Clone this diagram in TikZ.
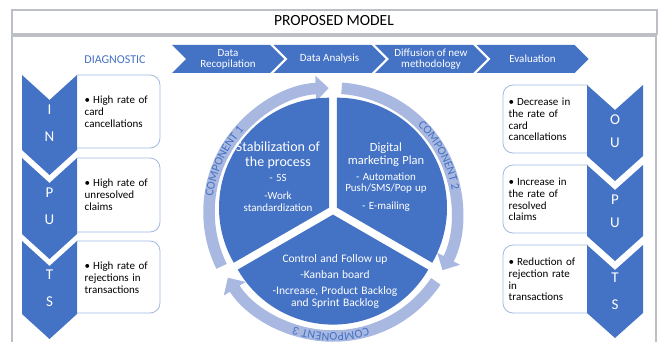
\documentclass[tikz,border=0pt]{standalone}
\usepackage{fontspec}
\setmainfont{Carlito}
\usetikzlibrary{arrows.meta,positioning,calc,decorations.text}

\definecolor{ofblue}{RGB}{68,114,196}
\definecolor{ringblue}{RGB}{168,184,224}
\definecolor{boxline}{RGB}{160,185,228}
\definecolor{framegray}{RGB}{188,191,198}

\newcommand{\sz}[2]{\fontsize{#1}{#2}\selectfont}
\newcommand{\pointitem}[1]{\noindent\hangindent=8.5pt\hangafter=1\makebox[8.5pt][l]{\textbullet}#1}

\begin{document}
\begin{tikzpicture}[x=1pt, y=1pt,
    framebox/.style={draw=framegray, line width=1.4pt},
    stage/.style={fill=ofblue},
    stagetxt/.style={text=white, align=center, font=\sz{11}{11}},
    listbox/.style={draw=boxline, line width=0.8pt, rounded corners=10pt},
    bullettxt/.style={anchor=north west, inner sep=0pt, text width=78pt, align=left, font=\sz{11}{11.7}},
    letter/.style={text=white, inner sep=0pt, font=\sz{15}{15}},
    ring/.style={draw=ringblue, line width=11.5pt, -{Triangle[width=25pt,length=13pt]}},
    segtxt/.style={text=white, inner sep=0pt, align=center, anchor=north}
]
\useasboundingbox (0,0) rectangle (660,-342);

% frame and title
\draw[framebox] (12,-10) rectangle (657,-34);
\draw[framebox] (12,-350) -- (12,-36) -- (656,-36) -- (656,-350);
\node[font=\sz{15.5}{16}] (title) at (334,-21) {PROPOSED MODEL};
\node[text=ofblue, font=\sz{12}{12}] (diag) at (115,-60) {DIAGNOSTIC};

% process stages
\foreach \i/\lbl in {0/{Data\\Recopilation}, 1/{Data Analysis}, 2/{Diffusion of new\\methodology}, 3/{Evaluation}} {
    \pgfmathsetmacro{\xa}{172+101.5*\i}
    \fill[stage] (\xa,-45) -- ++(98,0) -- ++(14,-14) -- ++(-14,-14) -- ++(-98,0) -- ++(14,14) -- cycle;
    \node[stagetxt] (stage\i) at (\xa+56,-59) {\lbl};
}

% inputs
\foreach \t/\e in {75/148, 158/232, 241/313}
    \draw[listbox] (77,-\t) -- (160,-\t) -- (160,-\e) -- (77,-\e);
\foreach \t/\b in {75/150, 158/234, 241/314}
    \fill[ofblue] (22,-\t) -- (49.5,-\t-25) -- (77,-\t) -- (77,-\b) -- (49.5,-\b-25) -- (22,-\b) -- cycle;
\foreach \c/\y [count=\k] in {I/110, N/137, P/193, U/220, T/275, S/302}
    \node[letter] (inl\k) at (49.5,-\y) {\c};

\node[bullettxt] (in1) at (84.5,-96) {\pointitem{High rate of\newline card\newline cancellations}};
\node[bullettxt] (in2) at (84.5,-179) {\pointitem{High rate of\newline unresolved\newline claims}};
\node[bullettxt] (in3) at (84.5,-262) {\pointitem{High rate of\newline rejections in\newline transactions}};

% outputs
\foreach \t/\e in {85/153, 165/233, 245/313}
    \draw[listbox] (588,-\t) -- (503,-\t) -- (503,-\e) -- (588,-\e);
\foreach \t/\b in {85/156, 165/236, 245/313}
    \fill[ofblue] (587,-\t) -- (615,-\t-25) -- (643,-\t) -- (643,-\b) -- (615,-\b-25) -- (587,-\b) -- cycle;
\foreach \c/\y [count=\k] in {O/120, U/143, P/200, U/223, T/278, S/305}
    \node[letter] (outl\k) at (615,-\y) {\c};

\node[bullettxt] (out1) at (508.5,-98) {\pointitem{Decrease in\newline the rate of\newline card\newline cancellations}};
\node[bullettxt] (out2) at (508.5,-178) {\pointitem{Increase in\newline the rate of\newline resolved\newline claims}};
\node[bullettxt] (out3) at (508.5,-258) {\pointitem{Reduction of\newline rejection rate\newline in\newline transactions}};

% cycle of components
\coordinate (ctr) at (333,-212);
\coordinate (pc) at (333,-210);
\foreach \s/\e in {206/92, 86/-28, -34/-148}
    \draw[ring] ($(ctr)+(\s:124)$) arc[start angle=\s, end angle=\e, radius=124];

\path[decorate, decoration={text along path, text align=center, text={|\color{ofblue}\sz{12}{12}|COMPONENT 1}}]
    ($(ctr)+(190:121)$) arc[start angle=190, end angle=120, radius=121];
\path[decorate, decoration={text along path, text align=center, text={|\color{ofblue}\sz{12}{12}|COMPONENT 2}}]
    ($(ctr)+(63:121)$) arc[start angle=63, end angle=-7, radius=121];
\path[decorate, decoration={text along path, text align=center, text={|\color{ofblue}\sz{12}{12}|COMPONENT 3}}]
    ($(ctr)+(-56:121)$) arc[start angle=-56, end angle=-126, radius=121];

\foreach \m/\a in {150/90, 30/-30, 270/210}
    \fill[ofblue] ($(pc)+(\m:4.6)$) -- ++(\a:110) arc[start angle=\a, end angle=\a+120, radius=110] -- cycle;

\node[segtxt, text width=92pt] (seg1) at (278,-141.2)
    {\sz{14}{15}Stabilization of\\the process\par\vspace{4.5pt}\sz{11}{11}- 5S\\[7pt]-Work\\standardization};
\node[segtxt, text width=90pt] (seg2) at (386,-142.3)
    {\sz{12.5}{13}Digital\\marketing Plan\par\vspace{5.5pt}\sz{11}{11}- Automation\\Push/SMS/Pop up\\[6pt]- E-mailing};
\node[segtxt, text width=135pt] (seg3) at (335,-254.5)
    {\sz{11.5}{11.5}Control and Follow up\\[4.5pt]-Kanban board\\[4.5pt]-Increase, Product Backlog\\and Sprint Backlog};
\end{tikzpicture}
\end{document}
